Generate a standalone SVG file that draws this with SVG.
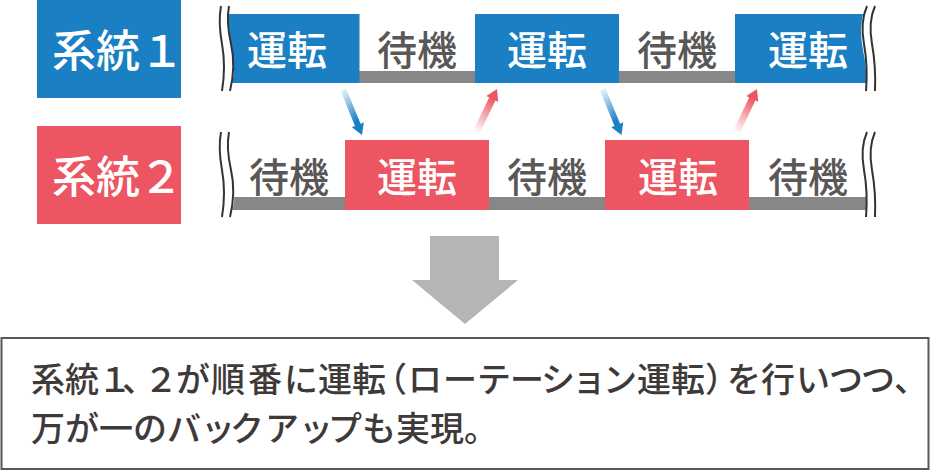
<svg xmlns="http://www.w3.org/2000/svg" width="930" height="476" viewBox="0 0 930 476">
<style>
text{font-family:"Noto Sans CJK JP","Noto Sans",sans-serif;font-weight:500}
.blue{fill:#1a7fc3}
.red{fill:#ec5561}
.bar{fill:#878787}
.w{fill:#fff;font-size:40px;text-anchor:middle}
.g{fill:#595757;font-size:40px;text-anchor:middle}
.lab{fill:#fff;font-size:44px}
.wave{fill:none;stroke:#333;stroke-width:2}
.body{fill:#3e3a39;font-size:34px}
</style>
<defs>
<linearGradient id="db" x1="0" y1="0" x2="0.45" y2="1"><stop offset="0" stop-color="#1a7fc3" stop-opacity="0"/><stop offset="0.85" stop-color="#1a7fc3"/></linearGradient>
<linearGradient id="ur" x1="0.4" y1="1" x2="0.75" y2="0"><stop offset="0" stop-color="#ec5561" stop-opacity="0"/><stop offset="0.85" stop-color="#ec5561"/></linearGradient>
</defs>
<g id="label1"><rect class="blue" x="37" y="0" width="144" height="98"/><text class="lab" x="52 96 140" y="67">系統１</text></g>
<g id="label2"><rect class="red" x="37" y="126" width="144" height="98"/><text class="lab" x="52 96 139" y="193">系統２</text></g>
<g id="row1">
<rect class="bar" x="359" y="71" width="116" height="12"/>
<rect class="bar" x="619" y="71" width="116" height="12"/>
<g id="r1a"><path class="blue" d="M229 14H359.500V83H232Q236 70 232 50T229 14Z"/><text class="w" x="287" y="65">運転</text></g>
<text class="g" x="417" y="65">待機</text>
<g id="r1b"><rect class="blue" x="475" y="14" width="144" height="69"/><text class="w" x="547" y="65">運転</text></g>
<text class="g" x="677" y="65">待機</text>
<g id="r1c"><path class="blue" d="M735 14H863Q859 30 863 50T866 83H735Z"/><text class="w" x="808" y="65">運転</text></g>
</g>
<g id="row2">
<path class="bar" d="M232 197H345V210H232Q235 204 234 197Z"/>
<rect class="bar" x="489" y="197" width="116" height="13"/>
<path class="bar" d="M749 197H866V210H749Z"/>
<text class="g" x="289" y="192">待機</text>
<g id="r2a"><rect class="red" x="345" y="140" width="144" height="70"/><text class="w" x="417" y="192">運転</text></g>
<text class="g" x="547" y="192">待機</text>
<g id="r2b"><rect class="red" x="605" y="140" width="144" height="70"/><text class="w" x="678" y="192">運転</text></g>
<text class="g" x="808" y="192">待機</text>
</g>
<g id="waves">
<path class="wave" d="M221 6Q218 22 222 44T222 91"/>
<path class="wave" d="M229 6Q226 22 231 44T230 91"/>
<path class="wave" d="M221 132Q218 148 222 170T222 217"/>
<path class="wave" d="M229 132Q226 148 231 170T230 217"/>
<path class="wave" d="M867 6Q860 22 864 44T866 91"/>
<path class="wave" d="M875 6Q868 22 872 44T875 91"/>
<path class="wave" d="M867 132Q860 148 864 170T866 217"/>
<path class="wave" d="M875 132Q868 148 872 170T875 217"/>
</g>
<g id="connectors">
<path fill="url(#db)" d="M340.200 90.100L345.800 87.900L360.600 123.700L363.800 122.300L362 135L351.800 127.300L355 126Z"/>
<path fill="url(#db)" d="M599.700 90.100L605.300 87.900L620.100 123.700L623.300 122.300L621.500 135L611.300 127.300L614.500 126Z"/>
<path fill="url(#ur)" d="M471.800 133.500L478.200 136.500L495.400 100.400L498.200 101.700L497 89L486.400 96.100L489.200 97.400Z"/>
<path fill="url(#ur)" d="M731.800 133.500L738.200 136.500L755.400 100.400L758.200 101.700L757 89L746.400 96.100L749.200 97.400Z"/>
<path fill="#b5b5b5" d="M430 236H499V280H518L465 324L412 280H430Z"/>
</g>
<g id="summary">
<rect x="1.500" y="338" width="927" height="131" fill="#fff" stroke="#595757" stroke-width="2"/>
<text class="body" x="31 65 98 122 144 176 211 248 284 318 352 373 408 443 477 510 541 572 603 637 671 705 727 761 796 829 861 894" y="392">系統１、２が順番に運転（ローテーション運転）を行いつつ、</text>
<text class="body" x="31 65 99 133 167 201 230 265 299 328 362 396 430 464" y="441">万が一のバックアップも実現。</text>
</g>
</svg>
